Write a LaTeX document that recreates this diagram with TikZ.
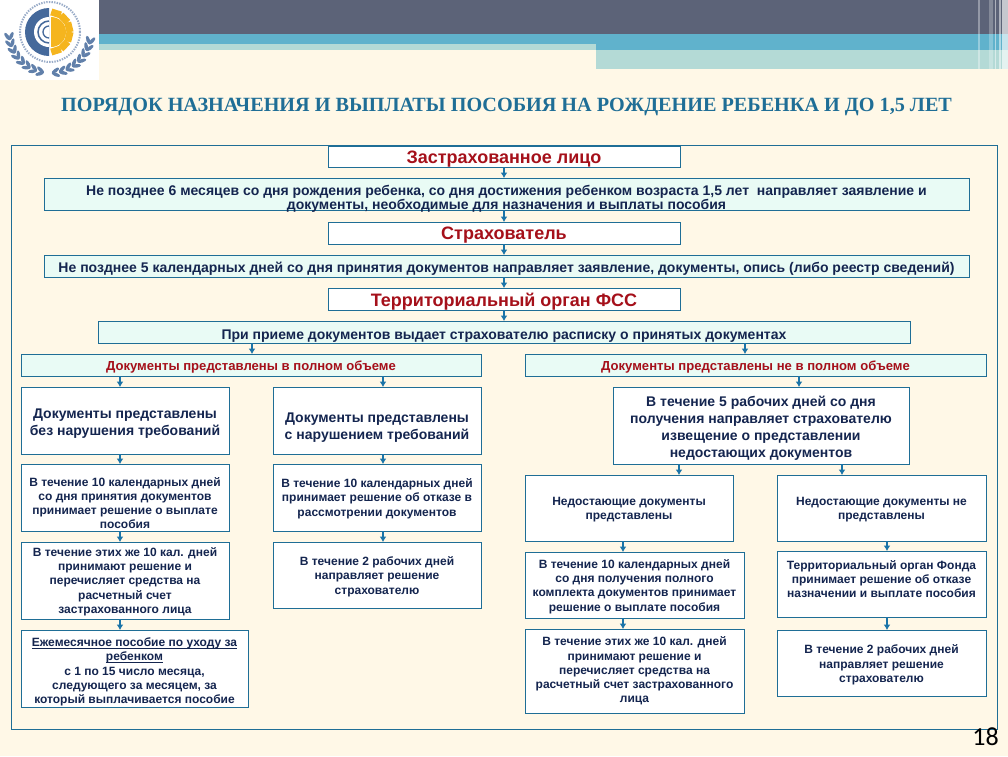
\documentclass[tikz,border=0pt]{standalone}
\usepackage{fontspec}
\setmainfont{Liberation Sans}
\newfontfamily\titlefont{Liberation Serif}
\newfontfamily\numfont{Carlito}
\usetikzlibrary{arrows.meta,calc}
\definecolor{pagebg}{HTML}{FFF8E7}
\definecolor{framec}{HTML}{1F6E96}
\definecolor{mintc}{HTML}{E9FBF5}
\definecolor{inkc}{HTML}{14254F}
\definecolor{redc}{HTML}{A5101A}
\definecolor{arrowc}{HTML}{1B74A8}
\definecolor{darkbar}{HTML}{5C6378}
\definecolor{tealbar}{HTML}{60B2CC}
\definecolor{palebar}{HTML}{B4DAD6}
\definecolor{logoblue}{HTML}{45699B}
\definecolor{logosun}{HTML}{F5B51E}
\tikzset{
  x=1pt,y=-1pt,
  flowbox/.style={draw=framec,line width=0.9pt,fill=white,inner sep=0pt,outer sep=0pt,align=center,
    text=inkc,font=\fontsize{12}{14.3}\selectfont\bfseries},
  mintbox/.style={flowbox,fill=mintc,font=\fontsize{14}{14.3}\selectfont\bfseries},
  redbox/.style={flowbox,text=redc,font=\fontsize{18}{18}\selectfont\bfseries},
  headbox/.style={mintbox,text=redc,font=\fontsize{13.1}{14}\selectfont\bfseries},
  bigtext/.style={font=\fontsize{14}{17}\selectfont\bfseries},
  flow/.style={draw=arrowc,line width=1.3pt,-{Latex[length=5.5pt,width=7pt]}},
}
\newcommand{\topgap}[1]{\rule{0pt}{#1pt}}
\newcommand{\lowline}[1]{\setbox0=\hbox{#1}\leavevmode\rlap{\rule[-1.8pt]{\wd0}{0.9pt}}\box0}
\begin{document}
\begin{tikzpicture}
  \useasboundingbox (0,0) rectangle (1008,756);
  \fill[pagebg] (0,0) rectangle (1008,756);

  % header bars
  \fill[darkbar] (99,0) rectangle (1008,34);
  \fill[palebar] (99,44) rectangle (596,50);
  \fill[palebar] (596,50) rectangle (1008,69);
  \fill[tealbar] (99,34) rectangle (596,44);
  \fill[tealbar] (596,34) rectangle (1008,50);
  \foreach \xa/\xb/\op in {978/980/.35,989/993/.25,995/996/.5,999/1001/.5,1002/1008/.65}
    \fill[white,opacity=\op] (\xa,0) rectangle (\xb,69);

  % logo
  \fill[white] (0,0) rectangle (99,80);
  \begin{scope}[shift={(50,32)},y=1pt]
    \draw[logoblue!55,line width=2pt,dash pattern=on 1.4pt off 1.2pt] (0,0) circle (30);
    \fill[logoblue] (-1,24) arc (90:270:24) -- cycle;
    \fill[white] (-1,15) arc (90:270:15) -- cycle;
    \draw[logoblue,line width=1.5pt] (-1,11) arc (90:270:11);
    \draw[logoblue,line width=1.3pt] (-1,6) arc (90:270:6);
    \fill[logosun] (1,15) arc (90:-90:15) -- cycle;
    \foreach \ang in {-72,-43,-14,14,43,72}
      \fill[logosun,rotate=\ang] (16,-5) rectangle (23,5);
    \foreach \ang in {186,196,...,262}{
      \fill[logoblue!85,rotate=\ang,shift={(39,0)},rotate=60] (0,0) ellipse (4.5 and 1.8);
      \fill[logoblue!85,rotate=\ang,shift={(43,0)},rotate=120] (0,0) ellipse (4.5 and 1.8);
    }
    \foreach \ang in {278,288,...,354}{
      \fill[logoblue!85,rotate=\ang,shift={(39,0)},rotate=-60] (0,0) ellipse (4.5 and 1.8);
      \fill[logoblue!85,rotate=\ang,shift={(43,0)},rotate=-120] (0,0) ellipse (4.5 and 1.8);
    }
  \end{scope}

  % title
  \node[text=framec,font=\titlefont\fontsize{20.2}{22}\selectfont\bfseries] (title) at (506.5,106.5)
    {ПОРЯДОК НАЗНАЧЕНИЯ И ВЫПЛАТЫ ПОСОБИЯ НА РОЖДЕНИЕ РЕБЕНКА И ДО 1,5 ЛЕТ};

  % outer frame
  \draw[framec,line width=0.9pt] (11.5,145.5) rectangle (997,729);

  % upper chain
  \node[redbox,minimum width=352,minimum height=21] (person) at (504,156.5) {\topgap{17}Застрахованное лицо};
  \node[mintbox,minimum width=925,minimum height=32] (note1) at (506.5,194)
    {\topgap{17}Не позднее 6 месяцев со дня рождения ребенка, со дня достижения ребенком возраста 1,5 лет\ \ направляет заявление и\\
     \smash{документы, необходимые для назначения и выплаты пособия}};
  \node[redbox,minimum width=352,minimum height=22] (insurer) at (504,233) {\topgap{17}Страхователь};
  \node[mintbox,minimum width=925,minimum height=22] (note2) at (506.5,266)
    {\topgap{16}Не позднее 5 календарных дней со дня принятия документов направляет заявление, документы, опись (либо реестр сведений)};
  \node[redbox,minimum width=352,minimum height=22] (office) at (504,299) {\topgap{18}Территориальный орган ФСС};
  \node[mintbox,minimum width=812,minimum height=22] (note3) at (504,332)
    {\topgap{18}При приеме документов выдает страхователю расписку о принятых документах};

  % left branch
  \node[headbox,minimum width=460,minimum height=22] (full) at (251,365) {\topgap{13.5}Документы представлены в полном объеме};
  \node[flowbox,bigtext,minimum width=208,minimum height=67] (la) at (125,420.5)
    {\topgap{16}Документы представлены\\без нарушения требований};
  \node[flowbox,bigtext,minimum width=208,minimum height=67] (lb) at (377,420.5)
    {\topgap{23}Документы представлены\\с нарушением требований};
  \node[flowbox,minimum width=208,minimum height=67] (lc) at (125,497.5)
    {\topgap{20}В течение 10 календарных дней\\со дня принятия документов\\принимает решение о выплате\\\smash{пособия}};
  \node[flowbox,minimum width=208,minimum height=67] (ld) at (377,497.5)
    {\topgap{11}В течение 10 календарных дней\\принимает решение об отказе в\\рассмотрении документов};
  \node[flowbox,minimum width=208,minimum height=77] (le) at (125,580.5)
    {\topgap{11}В течение этих же 10 кал. дней\\принимают решение и\\перечисляет средства на\\расчетный счет\\застрахованного лица};
  \node[flowbox,minimum width=208,minimum height=66] (lf) at (377,575)
    {\topgap{12}В течение 2 рабочих дней\\направляет решение\\страхователю};
  \node[flowbox,minimum width=227,minimum height=77] (lg) at (134.5,668.5)
    {\topgap{16}\lowline{Ежемесячное пособие по уходу за}\\\lowline{ребенком}\\с 1 по 15 число месяца,\\следующего за месяцем, за\\который выплачивается пособие};

  % right branch
  \node[headbox,minimum width=461,minimum height=22] (part) at (755.5,365) {\topgap{13.5}Документы представлены не в полном объеме};
  \node[flowbox,bigtext,minimum width=296,minimum height=77] (ra) at (761,425.5)
    {\topgap{15}В течение 5 рабочих дней со дня\\получения направляет страхователю\\извещение о представлении\\недостающих документов};
  \node[flowbox,minimum width=208,minimum height=66] (rb) at (629,508)
    {\topgap{12}Недостающие документы\\представлены};
  \node[flowbox,minimum width=209,minimum height=66] (rc) at (881.5,508)
    {\topgap{11}Недостающие документы не\\представлены};
  \node[flowbox,minimum width=219,minimum height=66] (rd) at (634.5,585)
    {\topgap{12}В течение 10 календарных дней\\со дня получения полного\\комплекта документов принимает\\решение о выплате пособия};
  \node[flowbox,minimum width=209,minimum height=66] (re) at (881.5,584)
    {Территориальный орган Фонда\\принимает решение об отказе\\назначении и выплате пособия\rule[-10pt]{0pt}{10pt}};
  \node[flowbox,minimum width=219,minimum height=84] (rf) at (634.5,671)
    {\topgap{9}В течение этих же 10 кал. дней\\принимают решение и\\перечисляет средства на\\расчетный счет застрахованного\\лица};
  \node[flowbox,minimum width=209,minimum height=66] (rg) at (881.5,663)
    {\topgap{13}В течение 2 рабочих дней\\направляет решение\\страхователю};

  % arrow columns
  \coordinate (colA) at (120,0);
  \coordinate (colB) at (383,0);
  \coordinate (colC) at (252,0);
  \coordinate (colD) at (745,0);
  \coordinate (colE) at (799,0);
  \coordinate (colF) at (679,0);
  \coordinate (colG) at (842,0);
  \coordinate (colH) at (623,0);
  \coordinate (colJ) at (887,0);

  \draw[flow] (person) -- (note1.north -| person);
  \draw[flow] (note1.south -| person) -- (insurer);
  \draw[flow] (insurer) -- (note2.north -| insurer);
  \draw[flow] (note2.south -| office) -- (office);
  \draw[flow] (office) -- (note3);
  \draw[flow] (note3.south -| colC) -- (full.north -| colC);
  \draw[flow] (note3.south -| colD) -- (part.north -| colD);
  \draw[flow] (full.south -| colA) -- (la.north -| colA);
  \draw[flow] (full.south -| colB) -- (lb.north -| colB);
  \draw[flow] (la.south -| colA) -- (lc.north -| colA);
  \draw[flow] (lb.south -| colB) -- (ld.north -| colB);
  \draw[flow] (lc.south -| colA) -- (le.north -| colA);
  \draw[flow] (ld.south -| colB) -- (lf.north -| colB);
  \draw[flow] (le.south -| colA) -- (lg.north -| colA);
  \draw[flow] (part.south -| colE) -- (ra.north -| colE);
  \draw[flow] (ra.south -| colF) -- (rb.north -| colF);
  \draw[flow] (ra.south -| colG) -- (rc.north -| colG);
  \draw[flow] (rb.south -| colH) -- (rd.north -| colH);
  \draw[flow] (rc.south -| colJ) -- (re.north -| colJ);
  \draw[flow] (rd.south -| colH) -- (rf.north -| colH);
  \draw[flow] (re.south -| colJ) -- (rg.north -| colJ);

  % page number
  \node[font=\numfont\fontsize{26}{26}\selectfont,text=black,inner sep=0pt] (pageno) at (985.5,737) {18};
\end{tikzpicture}
\end{document}
